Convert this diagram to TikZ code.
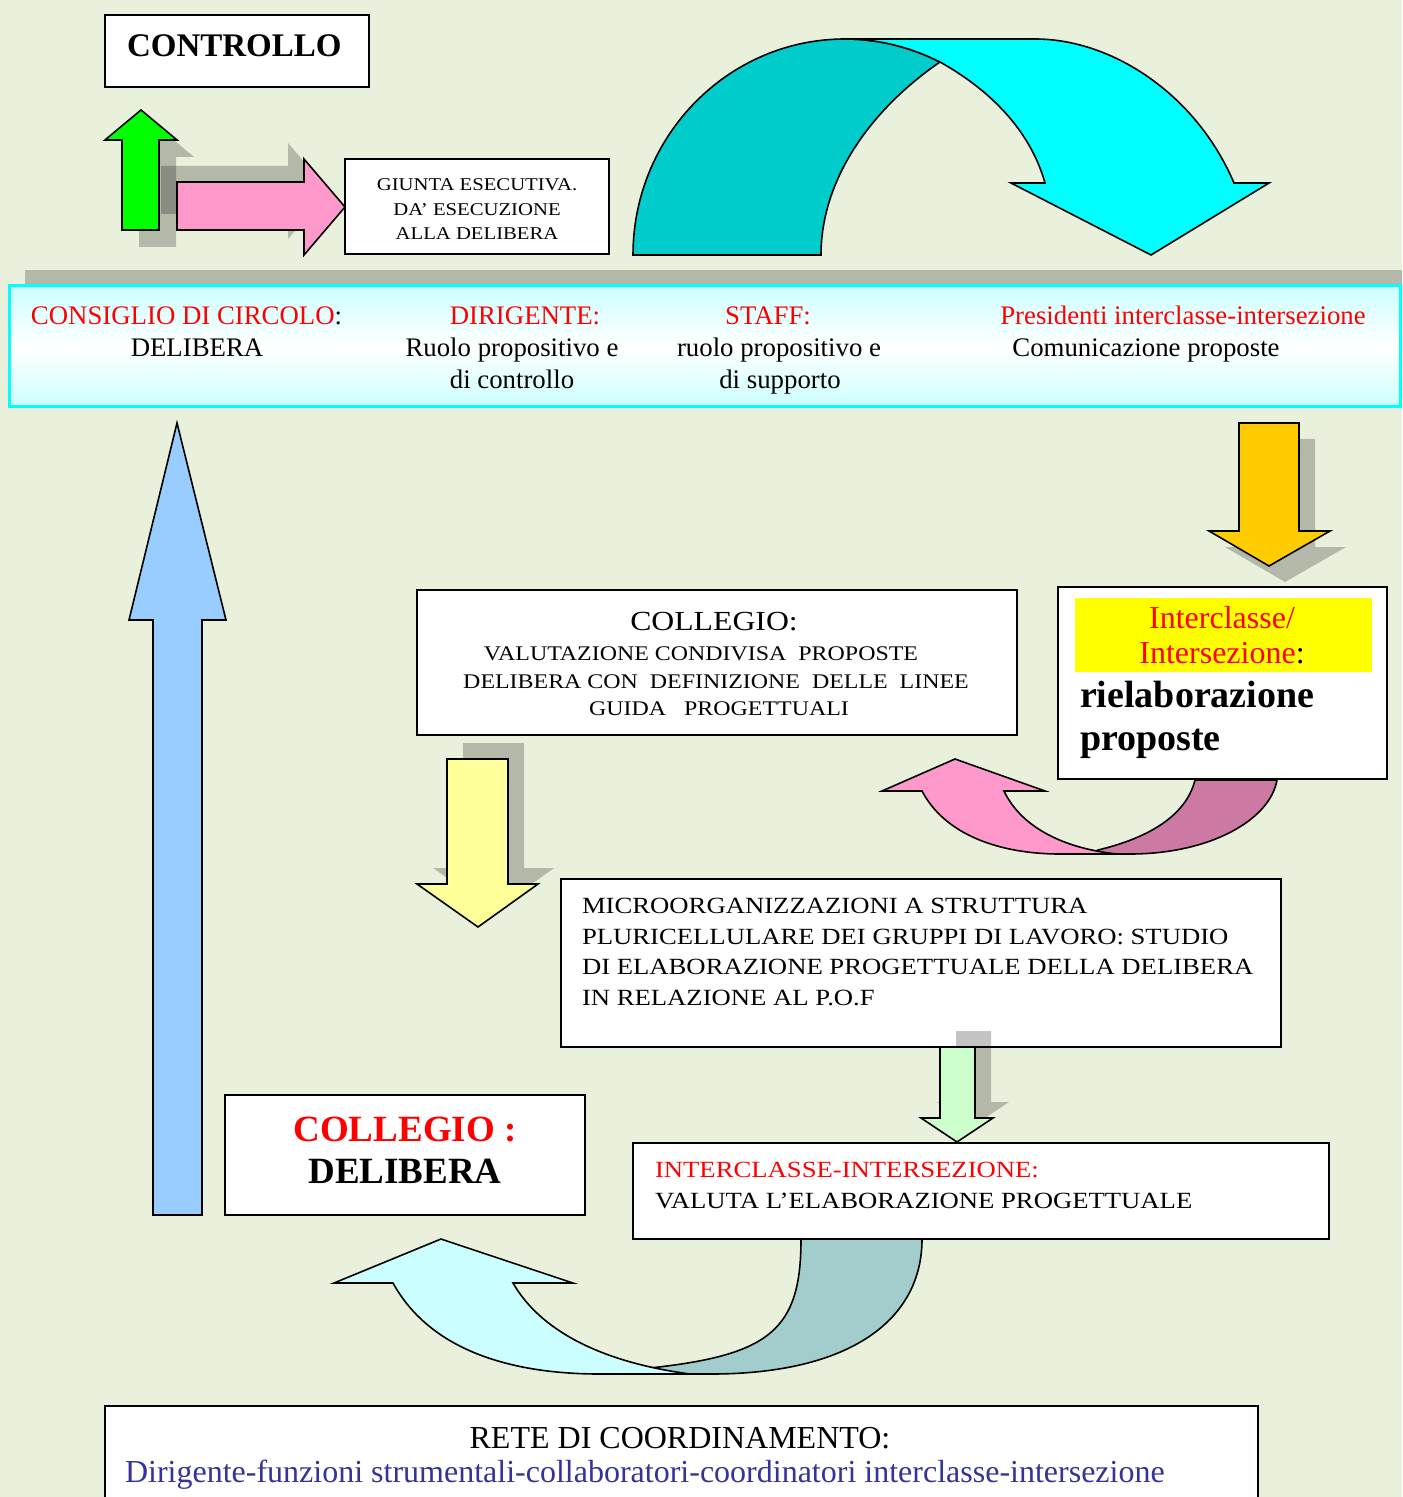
\documentclass[tikz,border=0pt]{standalone}
\usepackage{fontspec}
\setmainfont{Liberation Serif}
\newfontfamily\stA[FakeStretch=1.15]{Liberation Serif}
\definecolor{bgc}{RGB}{233,240,220}
\definecolor{rd}{RGB}{255,0,0}
\definecolor{bltx}{RGB}{51,51,153}
\definecolor{grA}{RGB}{0,255,0}
\definecolor{pkA}{RGB}{255,153,204}
\definecolor{pkB}{RGB}{204,122,163}
\definecolor{orA}{RGB}{255,204,0}
\definecolor{ylA}{RGB}{255,255,153}
\definecolor{lgA}{RGB}{204,255,204}
\definecolor{lbA}{RGB}{153,204,255}
\definecolor{tlA}{RGB}{0,204,204}
\definecolor{cyA}{RGB}{0,255,255}
\definecolor{cyL}{RGB}{204,255,255}
\definecolor{gtB}{RGB}{163,204,204}
\definecolor{yhl}{RGB}{255,255,0}
\begin{document}
\begin{tikzpicture}[x=0.5pt,y=-0.5pt,
  bx/.style={draw=black, line width=1pt, fill=white, inner sep=0pt, outer sep=0pt},
  shad/.style={fill=black, fill opacity=0.23},
  arr/.style={draw=black, line width=0.8pt, line join=miter},
  tx/.style={inner sep=0pt, outer sep=0pt, text=black},
  fhdr/.style={font=\fontsize{13.4}{16}\selectfont},
  fgiu/.style={font=\stA\fontsize{9}{11}\selectfont},
  fcol/.style={font=\stA\fontsize{10.4}{12}\selectfont},
  fmic/.style={font=\stA\fontsize{11.6}{14}\selectfont},
  fbig/.style={font=\bfseries\fontsize{18.5}{22}\selectfont}
]
\fill[bgc] (0,0) rectangle (1402,1497);
\useasboundingbox (0,0) rectangle (1402,1497);
\clip (0,0) rectangle (1402,1497);

% ---------- top left: CONTROLLO, arrows, GIUNTA ----------
\node[bx, minimum width=132pt, minimum height=36pt] (ctrl) at (237,51) {};
\node[tx, anchor=base west, font=\bfseries\fontsize{16.5}{20}\selectfont] (ctrlT) at (127,57) {CONTROLLO};

\def\greenarr{(122,230) -- (122,140) -- (105,140) -- (141,110) -- (177,140) -- (159,140) -- (159,230) -- cycle}
\def\pinkarr{(177,182) -- (304,182) -- (304,159) -- (345,207) -- (304,255) -- (304,230) -- (177,230) -- cycle}
\fill[shad, shift={(17,17)}] \greenarr;
\fill[shad, shift={(-16,-16)}] \pinkarr;
\filldraw[arr, fill=grA] \greenarr;
\filldraw[arr, fill=pkA] \pinkarr;

\node[bx, minimum width=132pt, minimum height=47.5pt] (giunta) at (477,206.5) {};
\node[tx, fgiu, anchor=base] (g1) at (477,191) {GIUNTA ESECUTIVA.};
\node[tx, fgiu, anchor=base] (g2) at (477,216) {DA’ ESECUZIONE};
\node[tx, fgiu, anchor=base] (g3) at (477,240) {ALLA DELIBERA};

% ---------- big curved cyan arrow ----------
\filldraw[arr, fill=tlA] (633,255) .. controls (633,136) and (728,39) .. (845,39)
  .. controls (880,39) and (912,48) .. (940,62)
  .. controls (870,110) and (821,180) .. (821,255) -- cycle;
\filldraw[arr, fill=cyA] (845,39) -- (1035,39) .. controls (1112,39) and (1196,94) .. (1234,183)
  -- (1269,183) -- (1151,255) -- (1011,183) -- (1045,183)
  .. controls (1030,130) and (990,90) .. (940,62)
  .. controls (912,48) and (880,39) .. (845,39) -- cycle;

% ---------- header band ----------
\fill[shad] (25,270) rectangle (1420,391);
\node[draw=cyA, line width=1.5pt, top color=cyL, bottom color=cyL, middle color=white,
      minimum width=695.5pt, minimum height=60.5pt, inner sep=0pt] (hdr) at (704.5,346.5) {};
\node[tx, fhdr, anchor=base west] (h1) at (31,325) {\textcolor{rd}{CONSIGLIO DI CIRCOLO}:};
\node[tx, fhdr, anchor=base] (h2) at (197,357) {DELIBERA};
\node[tx, fhdr, anchor=base, text=rd] (h3) at (525,325) {DIRIGENTE:};
\node[tx, fhdr, anchor=base] (h4) at (512,357) {Ruolo propositivo e};
\node[tx, fhdr, anchor=base] (h5) at (512,389) {di controllo};
\node[tx, fhdr, anchor=base, text=rd] (h6) at (768,325) {STAFF:};
\node[tx, fhdr, anchor=base] (h7) at (779,357) {ruolo propositivo e};
\node[tx, fhdr, anchor=base] (h8) at (780,389) {di supporto};
\node[tx, fhdr, anchor=base, text=rd] (h9) at (1183,325) {Presidenti interclasse-intersezione};
\node[tx, fhdr, anchor=base] (h10) at (1146,357) {Comunicazione proposte};

% ---------- big blue up arrow ----------
\filldraw[arr, fill=lbA] (153,1215) -- (153,620) -- (129,620) -- (177,423) -- (226,620) -- (202,620) -- (202,1215) -- cycle;

% ---------- orange arrow + Interclasse box ----------
\def\orarr{(1239,423) -- (1299,423) -- (1299,531) -- (1330,531) -- (1269,566) -- (1209,531) -- (1239,531) -- cycle}
\fill[shad, shift={(16,16)}] \orarr;
\filldraw[arr, fill=orA] \orarr;

\node[bx, minimum width=164.5pt, minimum height=96pt] (icbox) at (1222.5,683) {};
\fill[yhl] (1075,598) rectangle (1372,672);
\node[tx, anchor=base, text=rd, font=\fontsize{16}{19}\selectfont] (ic1) at (1222,628) {Interclasse/};
\node[tx, anchor=base, font=\fontsize{16}{19}\selectfont] (ic2) at (1222,663) {\textcolor{rd}{Intersezione}:};
\node[tx, anchor=base west, font=\bfseries\fontsize{19}{22}\selectfont] (ic3) at (1080,707) {rielaborazione};
\node[tx, anchor=base west, font=\bfseries\fontsize{19}{22}\selectfont] (ic4) at (1080,750) {proposte};

% ---------- pink U arrow ----------
\filldraw[arr, fill=pkB] (1195,780) -- (1277,780) .. controls (1270,820) and (1210,854) .. (1130,854)
  -- (1100,854) -- (1098,850) .. controls (1140,840) and (1185,820) .. (1195,780) -- cycle;
\filldraw[arr, fill=pkA] (922,791) -- (882,791) -- (955,759) -- (1045,791) -- (1004,791)
  .. controls (1020,825) and (1060,848) .. (1117,854) -- (1060,854)
  .. controls (1000,854) and (945,835) .. (922,791) -- cycle;

% ---------- COLLEGIO box ----------
\node[bx, minimum width=300pt, minimum height=72.5pt] (colbox) at (717,662.5) {};
\node[tx, anchor=base, font=\stA\fontsize{13.8}{16}\selectfont] (c0) at (714,630) {COLLEGIO:};
\node[tx, fcol, anchor=base] (c1) at (701,660) {VALUTAZIONE CONDIVISA\ \ PROPOSTE};
\node[tx, fcol, anchor=base] (c2) at (716,688) {DELIBERA CON\ \ DEFINIZIONE\ \ DELLE\ \ LINEE};
\node[tx, fcol, anchor=base] (c3) at (719,715) {GUIDA\ \ \ PROGETTUALI};

% ---------- yellow arrow ----------
\def\ylarr{(447,759) -- (508,759) -- (508,884) -- (538,884) -- (478,927) -- (417,884) -- (447,884) -- cycle}
\fill[shad, shift={(16,-16)}] \ylarr;
\filldraw[arr, fill=ylA] \ylarr;

% ---------- MICRO box ----------
\node[bx, minimum width=360pt, minimum height=84pt] (micro) at (921,963) {};
\node[tx, fmic, anchor=base west] (m1) at (582,913) {MICROORGANIZZAZIONI A STRUTTURA};
\node[tx, fmic, anchor=base west] (m2) at (582,944) {PLURICELLULARE DEI GRUPPI DI LAVORO: STUDIO};
\node[tx, fmic, anchor=base west] (m3) at (582,974) {DI ELABORAZIONE PROGETTUALE DELLA DELIBERA};
\node[tx, fmic, anchor=base west] (m4) at (582,1005) {IN RELAZIONE AL P.O.F};

% ---------- light green arrow ----------
\def\lgarr{(940,1047) -- (975,1047) -- (975,1118) -- (993,1118) -- (957,1142) -- (921,1118) -- (940,1118) -- cycle}
\fill[shad, shift={(16,-16)}] \lgarr;
\filldraw[arr, fill=lgA] \lgarr;

% ---------- INTERCLASSE-INTERSEZIONE box ----------
\node[bx, minimum width=348pt, minimum height=48pt] (ivbox) at (981,1191) {};
\node[tx, fmic, anchor=base west, text=rd] (iv1) at (655,1177) {INTERCLASSE-INTERSEZIONE:};
\node[tx, fmic, anchor=base west] (iv2) at (655,1208) {VALUTA L’ELABORAZIONE PROGETTUALE};

% ---------- COLLEGIO : DELIBERA box ----------
\node[bx, minimum width=180pt, minimum height=60pt] (cdbox) at (405,1155) {};
\node[tx, fbig, anchor=base, text=rd] (cd1) at (405,1141) {COLLEGIO :};
\node[tx, fbig, anchor=base] (cd2) at (405,1183) {DELIBERA};

% ---------- bottom U arrow ----------
\filldraw[arr, fill=gtB] (801,1239) -- (922,1239) .. controls (922,1320) and (850,1374) .. (711,1374)
  -- (652,1374) -- (650,1368) .. controls (770,1355) and (801,1330) .. (801,1239) -- cycle;
\filldraw[arr, fill=cyL] (393,1283) -- (334,1283) -- (441,1239) -- (573,1283) -- (513,1283)
  .. controls (540,1330) and (600,1362) .. (690,1374) -- (600,1374)
  .. controls (510,1374) and (430,1350) .. (393,1283) -- cycle;

% ---------- RETE box ----------
\node[bx, minimum width=576.5pt, minimum height=57pt] (rete) at (681.5,1463) {};
\node[tx, anchor=base, font=\fontsize{16}{19}\selectfont] (r1) at (680,1448) {RETE DI COORDINAMENTO:};
\node[tx, anchor=base west, text=bltx, font=\fontsize{16}{19}\selectfont] (r2) at (125,1482) {Dirigente-funzioni strumentali-collaboratori-coordinatori interclasse-intersezione};
\end{tikzpicture}
\end{document}
